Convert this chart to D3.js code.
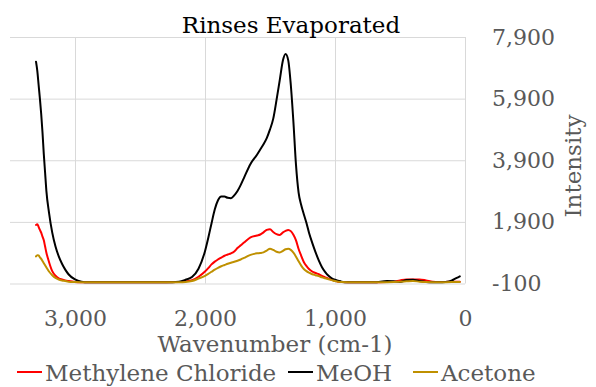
<!DOCTYPE html>
<html>
<head>
<meta charset="utf-8">
<script src="https://cdn.jsdelivr.net/npm/d3@7"></script>
<style>
  html, body { margin: 0; padding: 0; background: #fff; }
  svg { display: block; }
  svg text { font-family: "DejaVu Serif", serif; }
</style>
</head>
<body>
<svg id="chart" width="596" height="387"></svg>
<script>
// Wavenumber grid (cm-1) shared by all three spectra
const wavenumbers = [
  3300, 3290, 3280, 3270, 3260, 3250, 3240, 3230, 3220, 3200, 3175,
  3150, 3125, 3100, 3075, 3050, 3000, 2950, 2900, 2700, 2500,
  2300, 2200, 2150, 2100, 2050, 2000, 1975, 1950, 1925, 1900,
  1875, 1850, 1825, 1800, 1775, 1750, 1725, 1700, 1650, 1600,
  1575, 1550, 1525, 1500, 1475, 1450, 1425, 1400, 1380, 1360,
  1340, 1320, 1300, 1280, 1260, 1240, 1220, 1200, 1175, 1150,
  1125, 1100, 1075, 1050, 1025, 1000, 975, 950, 900, 800,
  700, 600, 550, 500, 450, 400, 350, 300, 250, 200,
  150, 100, 75, 50, 40
];

const methyleneChloride = [
  1800, 1820, 1740, 1640, 1550, 1420, 1300, 1100, 900, 600, 300,
  150, 70, 30, 0, -20, -50, -58, -60, -60, -60,
  -60, -55, -30, 10, 120, 290, 400, 520, 610, 680,
  740, 800, 840, 880, 940, 1050, 1140, 1230, 1400, 1460,
  1490, 1560, 1640, 1660, 1570, 1500, 1475, 1560, 1610, 1640,
  1600, 1480, 1300, 1020, 800, 600, 470, 370, 290, 240,
  200, 150, 100, 60, 20, -10, -40, -55, -60, -60,
  -60, -50, -40, 0, 30, 30, 30, 0, -40, -55,
  -50, -40, -40, -40, -40
];

const meoh = [
  7100, 6800, 6350, 5900, 5400, 4800, 4100, 3500, 2900, 2200, 1550,
  1100, 780, 540, 350, 200, 30, -40, -60, -60, -60,
  -60, -40, 20, 110, 380, 950, 1380, 1850, 2300, 2600,
  2720, 2720, 2680, 2670, 2760, 2900, 3100, 3330, 3780, 4080,
  4250, 4420, 4620, 4900, 5250, 5850, 6500, 7150, 7350, 7150,
  6350, 5150, 3750, 2850, 2450, 2150, 1870, 1550, 1220, 920,
  650, 430, 270, 150, 70, 20, -10, -40, -60, -60,
  -60, -20, -30, -50, 10, 20, -20, -50, -60, -60,
  -50, 0, 60, 110, 130
];

const acetone = [
  780, 820, 810, 750, 700, 630, 560, 490, 420, 290, 170,
  80, 30, 0, -20, -40, -55, -60, -60, -60, -60,
  -60, -58, -50, -20, 60, 150, 210, 280, 350, 410,
  460, 500, 540, 575, 605, 640, 680, 730, 830, 880,
  890, 910, 970, 1030, 990, 930, 910, 960, 1010, 1030,
  990, 900, 770, 620, 480, 370, 300, 250, 200, 170,
  140, 100, 70, 40, 10, -20, -40, -55, -60, -60,
  -60, -60, -55, -40, -30, -20, -40, -55, -60, -60,
  -60, -55, -50, -50, -50
];

const seriesNames = ["Methylene Chloride", "MeOH", "Acetone"];
const seriesColors = ["#ff0000", "#000000", "#bf9000"];
const seriesValues = [methyleneChloride, meoh, acetone];

const xTicks = [3000, 2000, 1000, 0];
const yTicks = [-100, 1900, 3900, 5900, 7900];
const xDomain = [3500, 0];
const yDomain = [-100, 7900];

const svg = d3.select("#chart");
const plot = { left: 10, right: 465, top: 37, bottom: 283.5 };

const x = d3.scaleLinear().domain(xDomain).range([plot.left, plot.right]);
const y = d3.scaleLinear().domain(yDomain).range([plot.bottom, plot.top]);
// Thousands separator with a plain hyphen for negatives
const fmt = d3.formatLocale({ decimal: ".", thousands: ",", grouping: [3], currency: ["", ""], minus: "-" }).format(",");

// Horizontal gridlines + right-hand value axis
const yAxis = d3.axisRight(y).tickValues(yTicks).tickFormat(fmt)
  .tickSize(-(plot.right - plot.left)).tickPadding(27);
const gy = svg.append("g").attr("transform", `translate(${plot.right},0)`).call(yAxis);
gy.attr("font-family", null);
gy.select(".domain").remove();
gy.selectAll(".tick line").attr("stroke", "#d9d9d9").attr("stroke-width", 1);
gy.selectAll(".tick text").attr("fill", "#595959").attr("font-size", 22)
  .attr("text-anchor", "start");

// Vertical gridlines + wavenumber axis
const xAxis = d3.axisBottom(x).tickValues(xTicks).tickFormat(fmt)
  .tickSize(-(plot.bottom - plot.top)).tickPadding(27);
const gx = svg.append("g").attr("transform", `translate(0,${plot.bottom})`).call(xAxis);
gx.attr("font-family", null);
gx.select(".domain").remove();
gx.selectAll(".tick line").attr("stroke", "#d9d9d9").attr("stroke-width", 1);
gx.selectAll(".tick text").attr("fill", "#595959").attr("font-size", 22);

// Spectra
const line = d3.line()
  .x((d, i) => x(wavenumbers[i]))
  .y(d => y(d))
  .curve(d3.curveMonotoneX);

svg.append("g").selectAll("path")
  .data(seriesValues)
  .join("path")
  .attr("d", d => line(d))
  .attr("fill", "none")
  .attr("stroke", (d, i) => seriesColors[i])
  .attr("stroke-width", 2)
  .attr("stroke-linejoin", "round")
  .attr("stroke-linecap", "round");

// Title
svg.append("text")
  .attr("x", 291).attr("y", 33)
  .attr("text-anchor", "middle")
  .attr("font-size", 23)
  .attr("fill", "#000")
  .text("Rinses Evaporated");

// Axis titles
svg.append("text")
  .attr("x", 275).attr("y", 352)
  .attr("text-anchor", "middle")
  .attr("font-size", 23)
  .attr("fill", "#595959")
  .text("Wavenumber (cm-1)");

svg.append("text")
  .attr("transform", "translate(581,166) rotate(-90)")
  .attr("text-anchor", "middle")
  .attr("font-size", 23)
  .attr("fill", "#595959")
  .text("Intensity");

// Legend
const legendX = [17, 288, 413];
const legend = svg.append("g").selectAll("g")
  .data(seriesNames)
  .join("g")
  .attr("transform", (d, i) => `translate(${legendX[i]},372)`);
legend.append("line")
  .attr("x1", 0).attr("x2", 25).attr("y1", 0).attr("y2", 0)
  .attr("stroke", (d, i) => seriesColors[i]).attr("stroke-width", 2);
legend.append("text")
  .attr("x", 28).attr("y", 9)
  .attr("font-size", 23)
  .attr("fill", "#595959")
  .text(d => d);
</script>
</body>
</html>
